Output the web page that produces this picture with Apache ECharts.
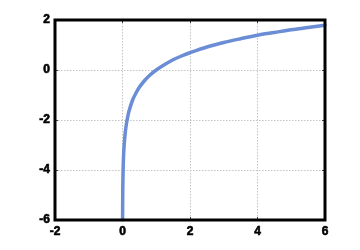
<!DOCTYPE html>
<html><head><meta charset="utf-8">
<script src="https://cdn.jsdelivr.net/npm/echarts@6/dist/echarts.min.js"></script>
<style>html,body{margin:0;padding:0;background:#fff}#c{width:360px;height:250px}</style>
</head><body><div id="c"></div>
<script>
const xValues = [0.0025,0.005,0.01,0.02,0.04,0.07,0.1,0.15,0.2,0.3,0.4,0.5,0.65,0.8,1,1.25,1.5,1.75,2,2.5,3,3.5,4,4.5,5,5.5,6];
const yValues = [-6,-5.3,-4.6,-3.9,-3.2,-2.66,-2.3,-1.9,-1.61,-1.2,-0.92,-0.69,-0.43,-0.22,0,0.22,0.41,0.56,0.69,0.92,1.1,1.25,1.39,1.5,1.61,1.7,1.79];
const xTicks = [-2,0,2,4,6];
const yTicks = [-6,-4,-2,0,2];

const chart = echarts.init(document.getElementById('c'), null, {renderer:'canvas'});
const labelStyle = {color:'#000', fontWeight:'bold', fontSize:12, fontFamily:'Arial, Liberation Sans, sans-serif', textBorderColor:'#000', textBorderWidth:0.6};
const gridLine = {show:true, lineStyle:{color:'#c4c4c4', width:1, type:[1.5,1.5]}};
const tick = {show:true, inside:true, length:3, lineStyle:{color:'#444', width:1}};
const noLine = {show:false, onZero:false};
chart.setOption({
  animation:false,
  grid:{left:55, right:35, top:20, bottom:30, show:true, borderColor:'#000', borderWidth:3, backgroundColor:'transparent', z:3},
  xAxis:[
    {type:'value', min:xTicks[0], max:xTicks[xTicks.length-1], interval:2, position:'bottom',
     axisLine:noLine, axisTick:tick, splitLine:gridLine,
     axisLabel:Object.assign({margin:6, showMinLabel:true, showMaxLabel:true}, labelStyle)},
    {type:'value', min:xTicks[0], max:xTicks[xTicks.length-1], interval:2, position:'top',
     axisLine:noLine, axisTick:tick, splitLine:{show:false}, axisLabel:{show:false}}
  ],
  yAxis:[
    {type:'value', min:yTicks[0], max:yTicks[yTicks.length-1], interval:2, position:'left',
     axisLine:noLine, axisTick:tick, splitLine:gridLine,
     axisLabel:Object.assign({margin:5, showMinLabel:true, showMaxLabel:true}, labelStyle)},
    {type:'value', min:yTicks[0], max:yTicks[yTicks.length-1], interval:2, position:'right',
     axisLine:noLine, axisTick:tick, splitLine:{show:false}, axisLabel:{show:false}}
  ],
  series:[{
    type:'line', xAxisIndex:0, yAxisIndex:0, smooth:0.3, showSymbol:false, clip:true,
    data:xValues.map((x,i)=>[x,yValues[i]]),
    lineStyle:{color:'#6a8dd6', width:3.5, cap:'round', join:'round'}, z:2
  }]
});
</script></body></html>
